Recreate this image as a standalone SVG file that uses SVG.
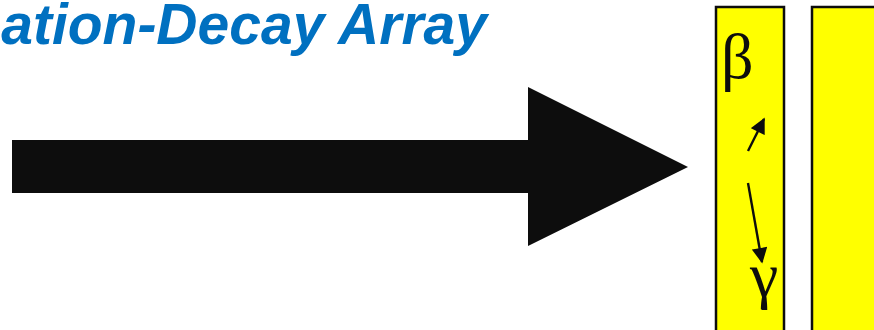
<svg xmlns="http://www.w3.org/2000/svg" width="874" height="330" viewBox="0 0 874 330">
<style>
.title{font-family:"Liberation Sans",Arial,sans-serif;font-weight:bold;font-style:italic;font-size:57px;fill:#0070C0}
.box{fill:#FFFF00;stroke:#0d0d0d;stroke-width:2.5}
.greek{font-family:"Liberation Serif","Times New Roman",serif;font-size:64px;fill:#0d0d0d}
.small{stroke:#0d0d0d;stroke-width:2.4;fill:none}
</style>
<defs>
<marker id="ah" viewBox="0 0 10 10" refX="9" refY="5" markerWidth="7" markerHeight="6.5" orient="auto" markerUnits="strokeWidth">
<path d="M0,0 L10,5 L0,10 z" fill="#0d0d0d"/>
</marker>
</defs>
<rect width="874" height="330" fill="#ffffff"/>
<text class="title" x="487" y="44" text-anchor="end">ation-Decay Array</text>
<g id="big-arrow">
<path d="M12,140 H528 V87 L688,167 L528,246 V193 H12 Z" fill="#0d0d0d"/>
</g>
<g id="detector1">
<rect class="box" x="716" y="7" width="68" height="340"/>
<text class="greek" x="721" y="78">β</text>
<text class="greek" x="750" y="296">γ</text>
</g>
<g id="detector2">
<rect class="box" x="812" y="7" width="80" height="340"/>
</g>
<g id="connectors">
<line class="small" x1="748" y1="151" x2="764" y2="119" marker-end="url(#ah)"/>
<line class="small" x1="748" y1="183" x2="762" y2="262" marker-end="url(#ah)"/>
</g>
</svg>
